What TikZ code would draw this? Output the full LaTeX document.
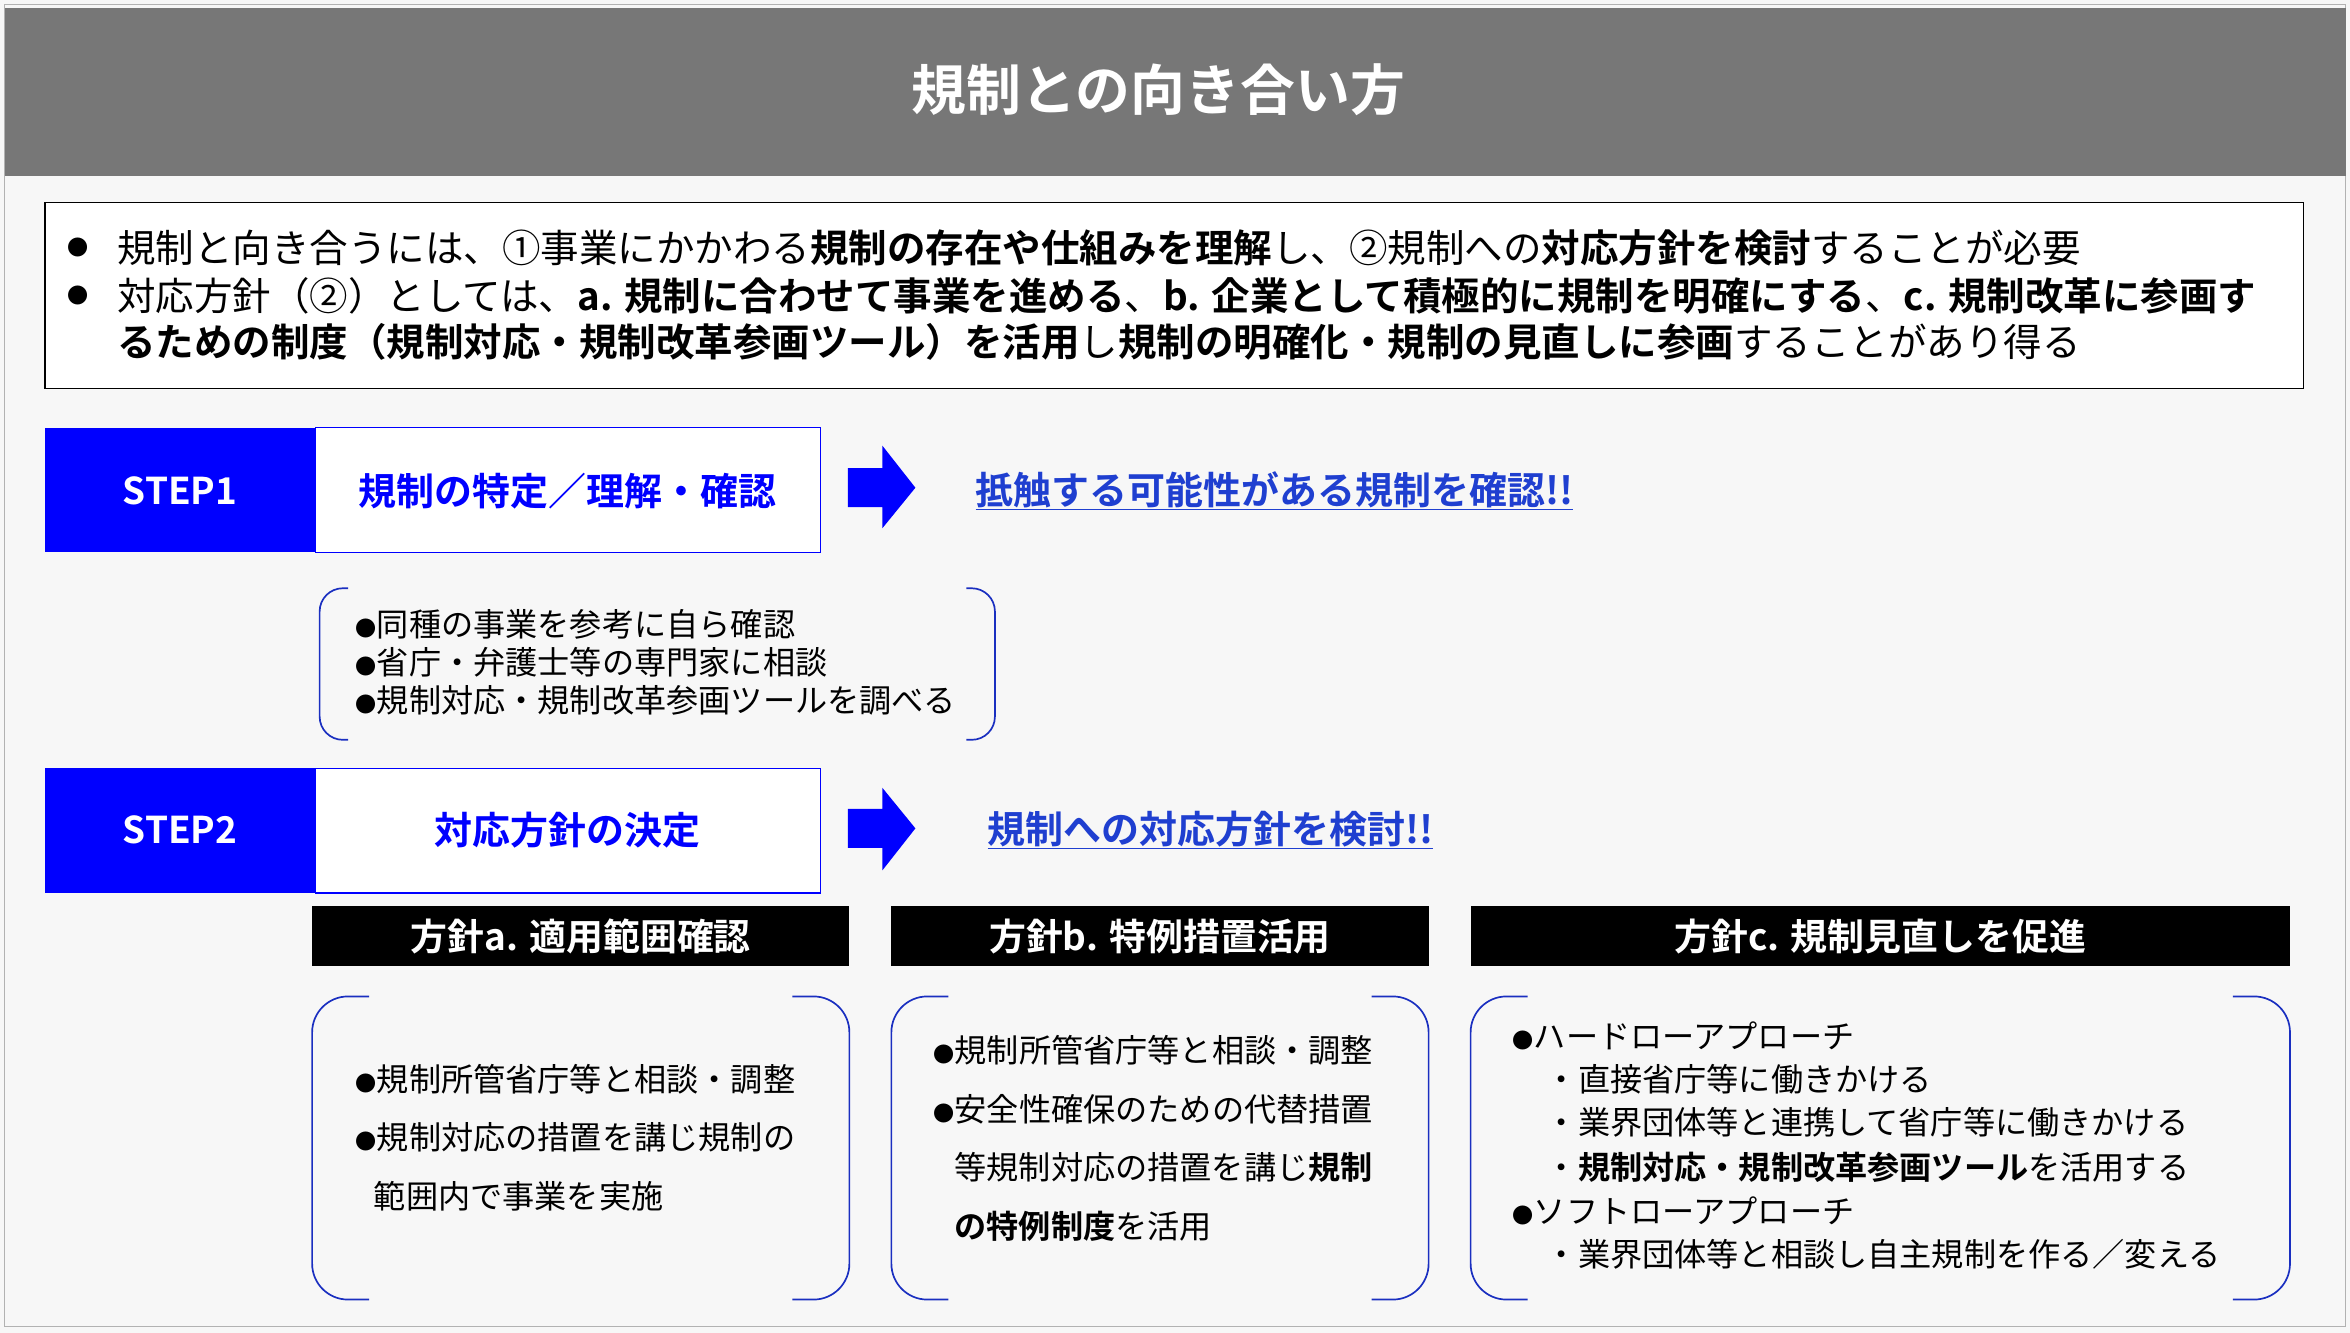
\documentclass[tikz,border=0pt]{standalone}
\usepackage{fontspec}
\setmainfont{Noto Sans CJK JP}[BoldFont={* Bold}]
\definecolor{stepblue}{HTML}{0000FF}
\definecolor{linkblue}{HTML}{1F3FD0}
\definecolor{brk}{HTML}{1A2FC0}
\definecolor{titlegray}{HTML}{777777}
\newcommand{\fs}[1]{\fontsize{#1}{#1}\selectfont}
\newcommand{\bl}{{\fs{20}●}}
\begin{document}
\begin{tikzpicture}[x=0.05cm,y=-0.05cm,
 txt/.style={anchor=west,inner sep=0pt,font=\fs{36.5}},
 small/.style={anchor=west,inner sep=0pt,font=\fs{30.5}},
 brkline/.style={draw=brk,line width=1.6pt,rounded corners=22}]
\useasboundingbox (0,0) rectangle (1566,888);
\fill[white!97!black] (0,0) rectangle (1566,888);
\draw[gray!60] (3,3) rectangle (1563,884);
\fill[titlegray] (3,5) rectangle (1563,117);
\node[text=white,font=\bfseries\fs{52}] (title) at (772,60) {規制との向き合い方};
\draw[fill=white,line width=1.2pt] (30,135) rectangle (1535,259);
\node[txt] (b1) at (45,165) {\bl};
\node[txt] (l1) at (78,165) {規制と向き合うには、①事業にかかわる\textbf{規制の存在や仕組みを理解}し、②規制への\textbf{対応方針を検討}することが必要};
\node[txt] (b2) at (45,197) {\bl};
\node[txt] (l2) at (78,197) {対応方針（②）としては、\textbf{a. 規制に合わせて事業を進める}、\textbf{b. 企業として積極的に規制を明確にする}、\textbf{c. 規制改革に参画す}};
\node[txt] (l3) at (78,228) {\textbf{るための制度（規制対応・規制改革参画ツール）を活用}し\textbf{規制の明確化・規制の見直しに参画}することがあり得る};
% STEP1
\fill[stepblue] (30,285) rectangle (210,368);
\draw[stepblue,fill=white,line width=1.2pt] (210,285) rectangle (547,368);
\node[text=white,font=\bfseries\fs{35}] (s1) at (120,327) {STEP1};
\node[text=stepblue,font=\bfseries\fs{36}] (s1t) at (378,327) {規制の特定／理解・確認};
\fill[stepblue] (565,312) -- (588,312) -- (588,297) -- (610,325) -- (588,352) -- (588,338) -- (565,338) -- cycle;
\node[txt,text=linkblue,font=\bfseries\fs{36}] (k1) at (650,327) {\underline{抵触する可能性がある規制を確認!!}};
\draw[brkline] (232,392) -- (213,392) -- (213,493) -- (232,493);
\draw[brkline] (644,392) -- (663,392) -- (663,493) -- (644,493);
\node[small] (c1) at (237,416) {\bl 同種の事業を参考に自ら確認};
\node[small] (c2) at (237,441) {\bl 省庁・弁護士等の専門家に相談};
\node[small] (c3) at (237,467) {\bl 規制対応・規制改革参画ツールを調べる};
% STEP2
\fill[stepblue] (30,512) rectangle (210,595);
\draw[stepblue,fill=white,line width=1.2pt] (210,512) rectangle (547,595);
\node[text=white,font=\bfseries\fs{35}] (s2) at (120,553) {STEP2};
\node[text=stepblue,font=\bfseries\fs{36}] (s2t) at (378,553) {対応方針の決定};
\fill[stepblue] (565,539) -- (588,539) -- (588,525) -- (610,552) -- (588,580) -- (588,565) -- (565,565) -- cycle;
\node[txt,text=linkblue,font=\bfseries\fs{36}] (k2) at (658,553) {\underline{規制への対応方針を検討!!}};
% headers
\fill[black] (208,604) rectangle (566,644);
\node[text=white,font=\bfseries\fs{35}] (ha) at (387,624) {方針a. 適用範囲確認};
\fill[black] (594,604) rectangle (952,644);
\node[text=white,font=\bfseries\fs{35}] (hb) at (773,624) {方針b. 特例措置活用};
\fill[black] (980,604) rectangle (1526,644);
\node[text=white,font=\bfseries\fs{35}] (hc) at (1253,624) {方針c. 規制見直しを促進};
% brackets
\foreach \xa/\xb in {208/566,594/952,980/1526}{
 \draw[brkline,rounded corners=34] (\xa+38,664) -- (\xa,664) -- (\xa,866) -- (\xa+38,866);
 \draw[brkline,rounded corners=34] (\xb-38,664) -- (\xb,664) -- (\xb,866) -- (\xb-38,866);}
\node[small] (pa1) at (237,719) {\bl 規制所管省庁等と相談・調整};
\node[small] (pa2) at (237,758) {\bl 規制対応の措置を講じ規制の};
\node[small] (pa3) at (249,797) {範囲内で事業を実施};
\node[small] (pb1) at (622,700) {\bl 規制所管省庁等と相談・調整};
\node[small] (pb2) at (622,739) {\bl 安全性確保のための代替措置};
\node[small] (pb3) at (636,778) {等規制対応の措置を講じ\textbf{規制}};
\node[small] (pb4) at (636,817) {\textbf{の特例制度}を活用};
\node[small] (pc1) at (1008,690) {\bl ハードローアプローチ};
\node[small] (pc2) at (1030,719) {・直接省庁等に働きかける};
\node[small] (pc3) at (1030,748) {・業界団体等と連携して省庁等に働きかける};
\node[small] (pc4) at (1030,778) {・\textbf{規制対応・規制改革参画ツール}を活用する};
\node[small] (pc5) at (1008,807) {\bl ソフトローアプローチ};
\node[small] (pc6) at (1030,836) {・業界団体等と相談し自主規制を作る／変える};
\end{tikzpicture}
\end{document}
